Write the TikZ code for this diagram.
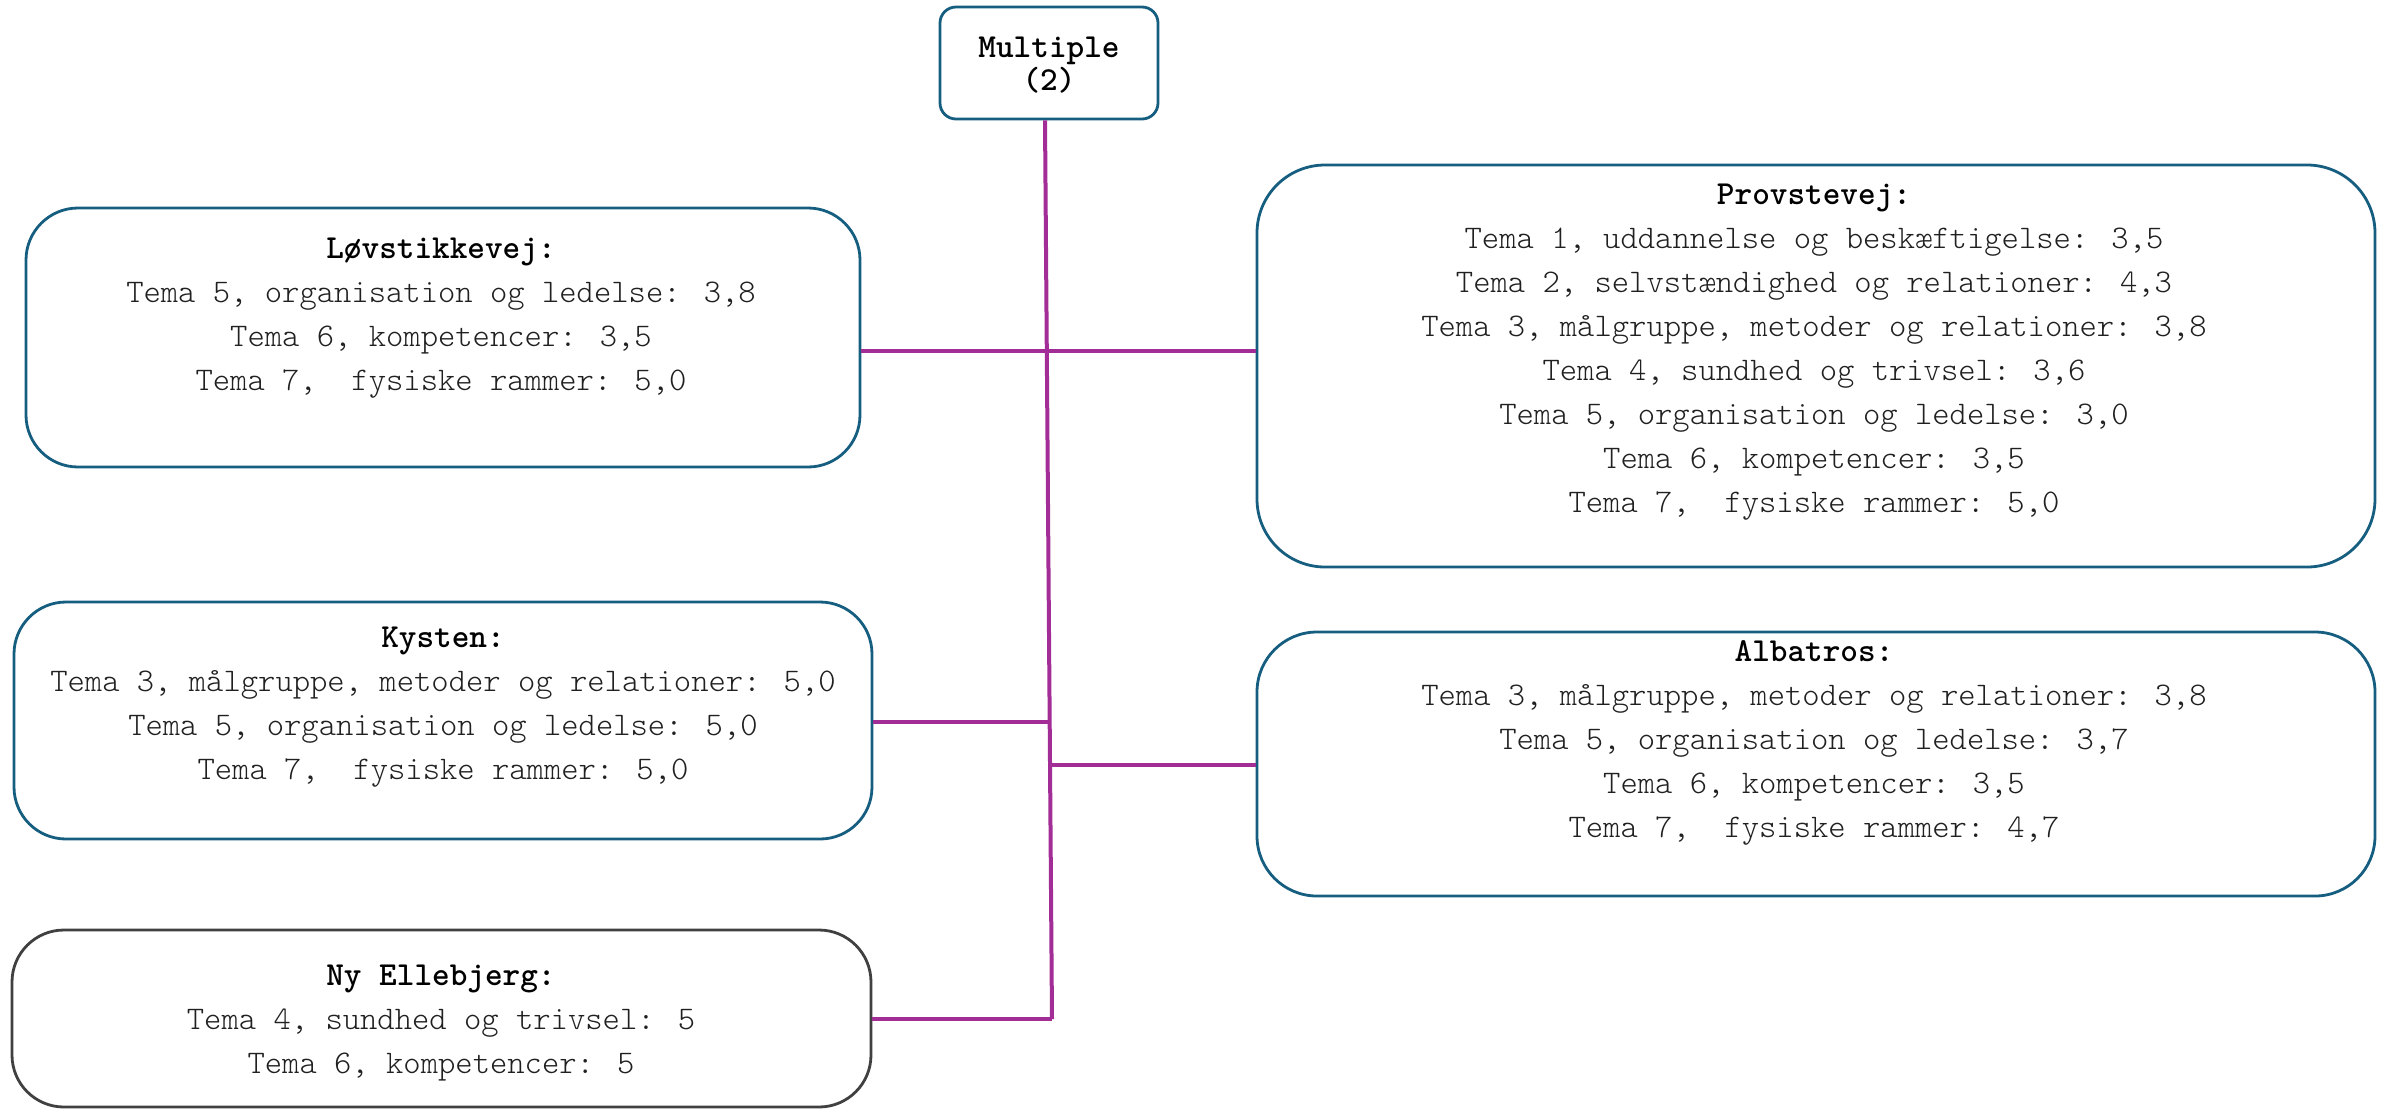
\documentclass[tikz,border=0pt]{standalone}
\usepackage{fontspec}
\setmainfont{lmmonolt10}[Extension=.otf, UprightFont=*-regular, BoldFont=*-bold]
\definecolor{bordc}{RGB}{22,94,128}
\definecolor{linkc}{RGB}{163,45,150}
\definecolor{txtc}{HTML}{202020}
\definecolor{grayb}{HTML}{404040}
\newcommand\mytitle[1]{{\fontsize{16.8}{22}\selectfont\bfseries\color{black}#1}}
\tikzset{
  box/.style={draw=bordc, line width=1.4pt, fill=white, inner sep=0pt},
  lbl/.style={align=center, text=txtc, inner sep=0pt, font=\fontsize{16.5}{22}\selectfont},
  link/.style={draw=linkc, line width=2pt},
}
\begin{document}
\begin{tikzpicture}[x=0.5pt,y=-0.5pt]
\useasboundingbox (0,0) rectangle (2384,1110);
% boxes
\node[box, rounded corners=8pt, minimum width=109pt, minimum height=56pt] (multi) at (1049,63) {};
\node[box, rounded corners=26pt, minimum width=417pt, minimum height=129.5pt] (lov) at (443,337.5) {};
\node[box, rounded corners=34pt, minimum width=559pt, minimum height=201pt] (prov) at (1816,366) {};
\node[box, rounded corners=26pt, minimum width=429pt, minimum height=118.5pt] (kys) at (443,720.5) {};
\node[box, rounded corners=30pt, minimum width=559pt, minimum height=132pt] (alb) at (1816,764) {};
\node[box, draw=grayb, rounded corners=26pt, minimum width=429.5pt, minimum height=88.5pt] (ny) at (441.5,1018.5) {};
% texts
\node[align=center, inner sep=0pt, font=\fontsize{16.8}{16.5}\selectfont\bfseries] (multit) at (1049,65) {Multiple\\(2)};
\node[lbl] (lovt) at (441,318.5) {\mytitle{Løvstikkevej:}\\
Tema 5, organisation og ledelse: 3,8\\
Tema 6, kompetencer: 3,5\\
Tema 7,\ \ fysiske rammer: 5,0};
\node[lbl] (provt) at (1814,352) {\mytitle{Provstevej:}\\
Tema 1, uddannelse og beskæftigelse: 3,5\\
Tema 2, selvstændighed og relationer: 4,3\\
Tema 3, målgruppe, metoder og relationer: 3,8\\
Tema 4, sundhed og trivsel: 3,6\\
Tema 5, organisation og ledelse: 3,0\\
Tema 6, kompetencer: 3,5\\
Tema 7,\ \ fysiske rammer: 5,0};
\node[lbl] (kyst) at (443,707) {\mytitle{Kysten:}\\
Tema 3, målgruppe, metoder og relationer: 5,0\\
Tema 5, organisation og ledelse: 5,0\\
Tema 7,\ \ fysiske rammer: 5,0};
\node[lbl] (albt) at (1814,742.5) {\mytitle{Albatros:}\\
Tema 3, målgruppe, metoder og relationer: 3,8\\
Tema 5, organisation og ledelse: 3,7\\
Tema 6, kompetencer: 3,5\\
Tema 7,\ \ fysiske rammer: 4,7};
\node[lbl] (nyt) at (441,1023) {\mytitle{Ny Ellebjerg:}\\
Tema 4, sundhed og trivsel: 5\\
Tema 6, kompetencer: 5};
% connectors
\coordinate (tb) at (1052,1019);
\coordinate (jl) at (1047,351);
\coordinate (jk) at (1049,722);
\coordinate (ja) at (1051,765);
\draw[link] ([xshift=-2pt]multi.south) -- (tb);
\draw[link] (lov.east |- jl) -- (prov.west |- jl);
\draw[link] (kys.east |- jk) -- (jk);
\draw[link] (ja) -- (alb.west |- ja);
\draw[link] (ny.east |- tb) -- (tb);
\end{tikzpicture}
\end{document}
